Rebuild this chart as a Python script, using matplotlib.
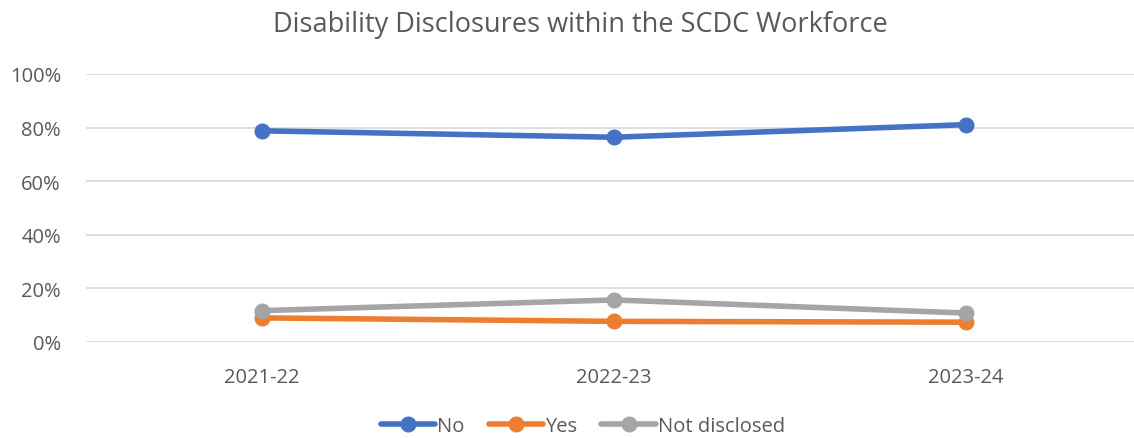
import matplotlib.pyplot as plt

years = ['2021-22', '2022-23', '2023-24']
no_vals = [0.788, 0.764, 0.811]
yes_vals = [0.090, 0.077, 0.074]
not_disclosed = [0.117, 0.157, 0.108]

series = [('No', no_vals, '#4472C4'),
          ('Yes', yes_vals, '#ED7D31'),
          ('Not disclosed', not_disclosed, '#A5A5A5')]

plt.rcParams['font.family'] = ['Open Sans', 'DejaVu Sans']
txt = '#595959'

fig = plt.figure(figsize=(11.34, 4.39), dpi=100)
ax = fig.add_axes([86 / 1134, 1 - 343 / 439, 1056 / 1134, 268 / 439])

x = list(range(len(years)))
for name, vals, col in series:
    ax.plot(x, vals, color=col, lw=4, marker='o', markersize=10.5,
            label=name, solid_capstyle='round')

ax.set_xlim(-0.5, 2.5)
ax.set_ylim(0, 1.0)
ax.set_yticks([0, 0.2, 0.4, 0.6, 0.8, 1.0])
ax.set_yticklabels(['0%', '20%', '40%', '60%', '80%', '100%'])
ax.set_xticks(x)
ax.set_xticklabels(years)
ax.tick_params(axis='both', length=0, labelsize=14.5, colors=txt)
ax.tick_params(axis='x', pad=18)
ax.tick_params(axis='y', pad=18)
ax.grid(axis='y', color='#D9D9D9', lw=1.2)
ax.set_axisbelow(True)
for s in ax.spines.values():
    s.set_visible(False)

fig.suptitle('Disability Disclosures within the SCDC Workforce', x=0.512, y=0.975,
             fontsize=19.5, color=txt, va='top')

fig.legend(loc='center', bbox_to_anchor=(0.514, 0.027), ncol=3, frameon=False,
           fontsize=14.5, labelcolor=txt, handlelength=2.7, handletextpad=0.1,
           columnspacing=1.2)

fig.savefig('out.png', dpi=100)
